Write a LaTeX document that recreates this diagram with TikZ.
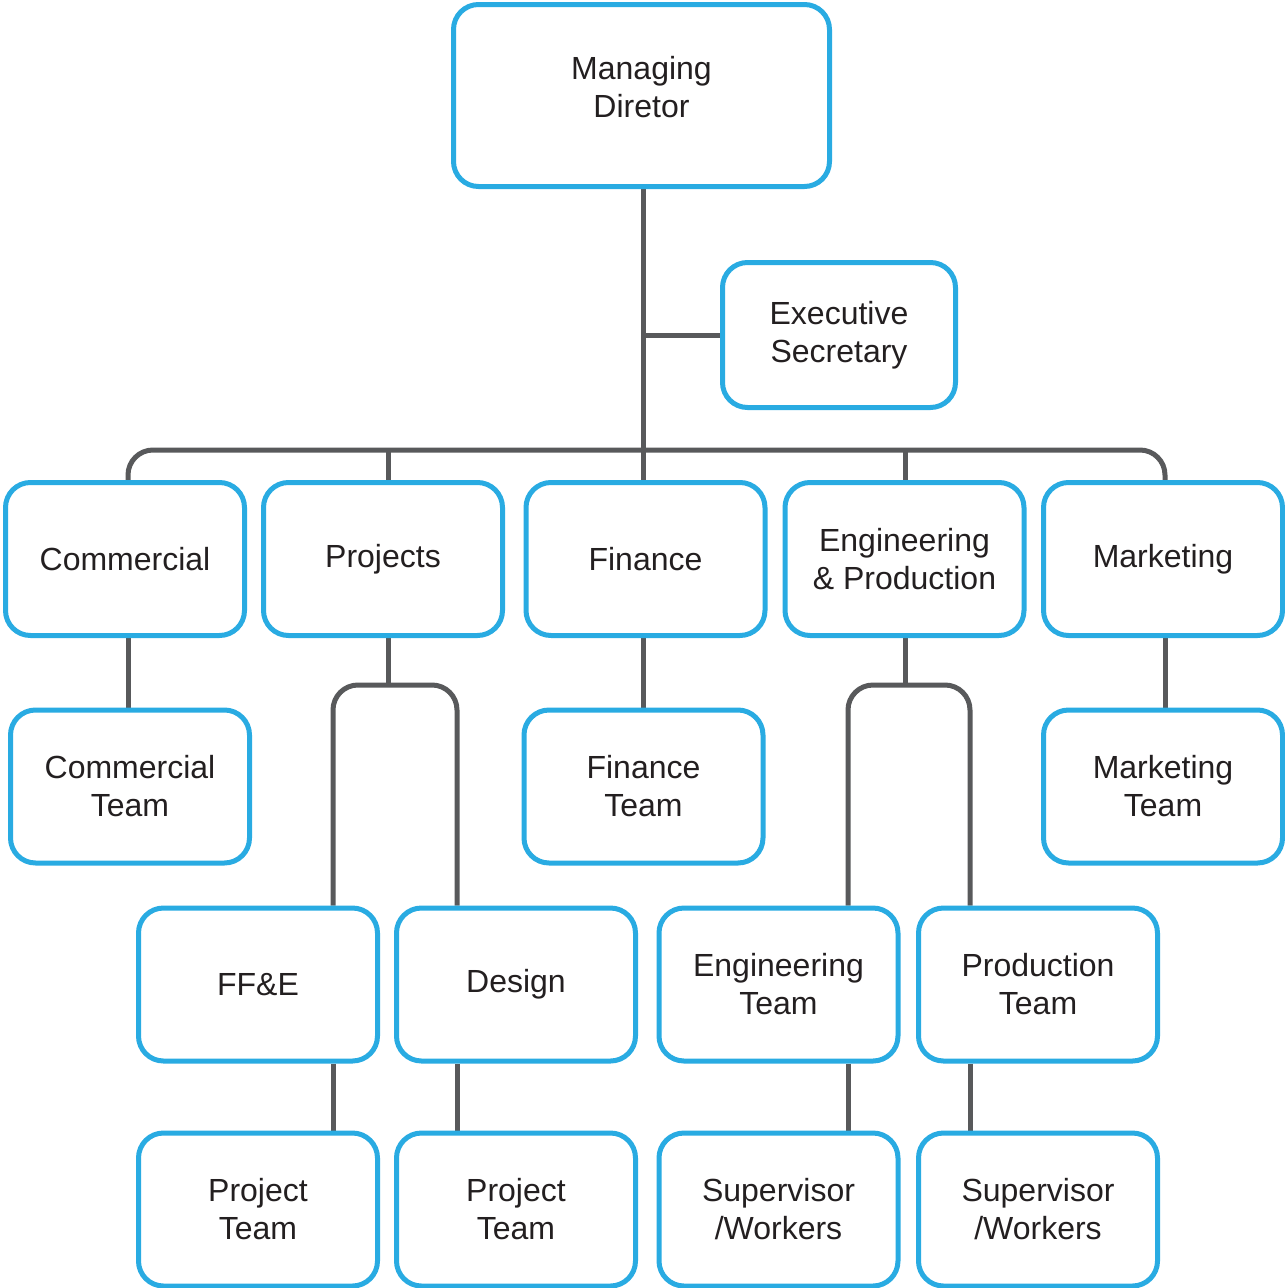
\documentclass[tikz,border=0pt]{standalone}
\usepackage{fontspec}
\setmainfont{Liberation Sans}
\usetikzlibrary{backgrounds}
\definecolor{boxblue}{HTML}{29ABE2}
\definecolor{linegray}{HTML}{58595B}
\definecolor{textdark}{HTML}{231F20}
\tikzstyle{unit}=[draw=boxblue, line width=5pt, rounded corners=25pt, fill=white, align=center, text=textdark, font=\fontsize{32}{38}\selectfont, minimum width=239pt, minimum height=153pt, inner sep=0pt]
\tikzstyle{link}=[draw=linegray, line width=5pt]

\begin{document}
\begin{tikzpicture}[x=1pt,y=-1pt]
    \useasboundingbox (0,0) rectangle (1285,1288);

    % Top
    \draw (641.5,95.5) node[unit, minimum width=376pt, minimum height=182pt] (md) {Managing\\Diretor\\[-20pt]};
    \draw (839,335) node[unit, minimum width=233pt, minimum height=145pt] (sec) {Executive\\Secretary};

    % Departments
    \draw (125,559) node[unit] (com) {Commercial};
    \draw (383,559) node[unit] (proj) {Projects};
    \draw (645.5,559) node[unit] (fin) {Finance};
    \draw (904.5,559) node[unit] (ep) {Engineering\\\& Production};
    \draw (1163,559) node[unit] (mkt) {Marketing};

    % Teams
    \draw (130,786.5) node[unit] (cteam) {Commercial\\Team};
    \draw (643.5,786.5) node[unit] (fteam) {Finance\\Team};
    \draw (1163,786.5) node[unit] (mteam) {Marketing\\Team};

    \draw (258,984.5) node[unit] (ffe) {FF\&E};
    \draw (516,984.5) node[unit] (des) {Design};
    \draw (778.5,984.5) node[unit] (eteam) {Engineering\\Team};
    \draw (1038,984.5) node[unit] (pteam) {Production\\Team};

    \draw (258,1209.5) node[unit] (pjt1) {Project\\Team};
    \draw (516,1209.5) node[unit] (pjt2) {Project\\Team};
    \draw (778.5,1209.5) node[unit] (sup1) {Supervisor\\/Workers};
    \draw (1038,1209.5) node[unit] (sup2) {Supervisor\\/Workers};

    % Branch points
    \coordinate (hub) at (643,450);
    \coordinate (busl) at (128,450);
    \coordinate (busr) at (1165,450);
    \coordinate (pjm) at (388,685);
    \coordinate (pjl) at (333,685);
    \coordinate (pjr) at (457,685);
    \coordinate (epm) at (905,685);
    \coordinate (epl) at (848,685);
    \coordinate (epr) at (970,685);

    % Connections
    \begin{scope}[on background layer]
        \draw[link] (md.south -| hub) -- (fin.north -| hub);
        \draw[link] (sec.west) -- (sec.west -| hub);
        \draw[link, rounded corners=25pt] (com.north -| busl) -- (busl) -- (busr) -- (mkt.north -| busr);
        \draw[link] (pjm |- hub) -- (proj.north -| pjm);
        \draw[link] (epm |- hub) -- (ep.north -| epm);

        \draw[link] (com.south -| busl) -- (cteam.north -| busl);
        \draw[link] (fin.south -| hub) -- (fteam.north -| hub);
        \draw[link] (mkt.south -| busr) -- (mteam.north -| busr);

        \draw[link] (proj.south -| pjm) -- (pjm);
        \draw[link, rounded corners=25pt] (ffe.north -| pjl) -- (pjl) -- (pjr) -- (des.north -| pjr);
        \draw[link] (ep.south -| epm) -- (epm);
        \draw[link, rounded corners=25pt] (eteam.north -| epl) -- (epl) -- (epr) -- (pteam.north -| epr);

        \draw[link] (ffe.south -| pjl) -- (pjt1.north -| pjl);
        \draw[link] (des.south -| pjr) -- (pjt2.north -| pjr);
        \draw[link] (eteam.south -| epl) -- (sup1.north -| epl);
        \draw[link] (pteam.south -| epr) -- (sup2.north -| epr);
    \end{scope}

\end{tikzpicture}
\end{document}
